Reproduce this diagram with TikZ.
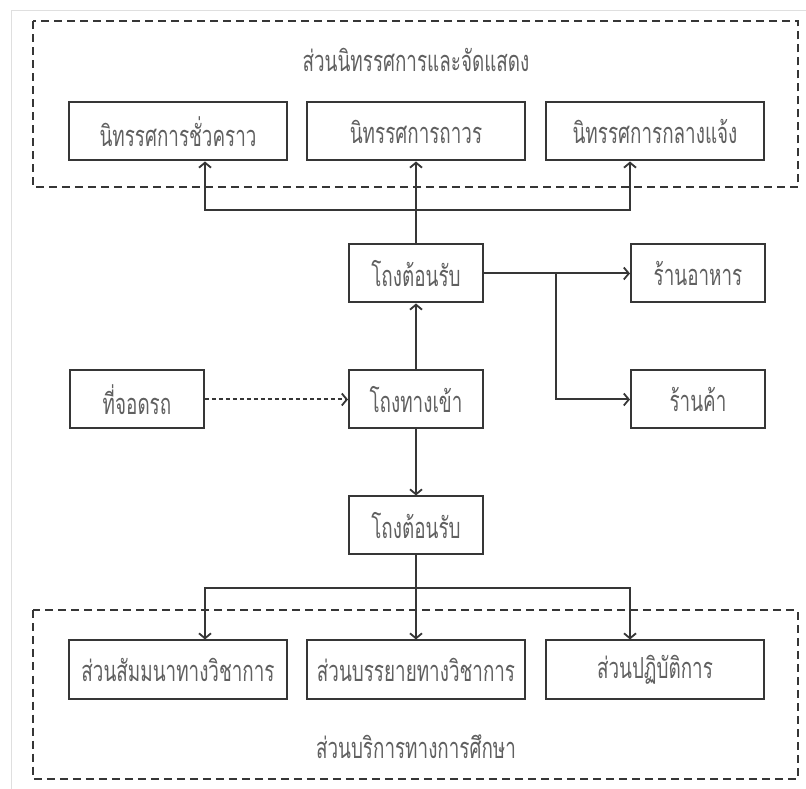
\documentclass[tikz,border=0pt]{standalone}
\usepackage{fontspec}
\newfontfamily\thaifont[Script=Thai,FakeStretch=0.65]{Loma}
\usetikzlibrary{positioning,arrows.meta}
\tikzset{>={Straight Barb[length=5pt,width=12pt,line width=1.8pt]}}
\definecolor{ink}{HTML}{363636}
\definecolor{txt}{HTML}{606060}
\tikzset{
  room/.style={draw=ink,line width=2pt,text=txt,minimum height=58pt,inner sep=0pt,font=\thaifont\fontsize{29}{31}\selectfont},
  wide/.style={room,minimum width=218pt},
  small/.style={room,minimum width=134pt},
  link/.style={draw=ink,line width=2pt},
  zone/.style={draw=ink,line width=2pt,dash pattern=on 8pt off 5pt},
  ttl/.style={text=txt,font=\thaifont\fontsize{29}{31}\selectfont}
}

\begin{document}
\begin{tikzpicture}
		\useasboundingbox (-416pt,399.5pt) rectangle (390pt,-389.5pt);
		\draw[gray!25,line width=1pt] (-404pt,-389.5pt) -- (-404pt,388.5pt) -- (390pt,388.5pt);

		\node(ent)[small]                        {โถงทางเข้า};
		\node(recA)[small,above=66pt of ent]     {โถงต้อนรับ};
		\node(recB)[small,below=66pt of ent]     {โถงต้อนรับ};
		\node(park)[small,left=143pt of ent]     {ที่จอดรถ};
		\node(shop)[small,right=146pt of ent]    {ร้านค้า};
		\node(food)[small,above=66pt of shop]    {ร้านอาหาร};

		\node(ex2)[wide,above=82pt of recA]      {นิทรรศการถาวร};
		\node(ex1)[wide,left=18pt of ex2]        {นิทรรศการชั่วคราว};
		\node(ex3)[wide,right=19pt of ex2]       {นิทรรศการกลางแจ้ง};

		\node(sc2)[wide,below=84pt of recB]      {ส่วนบรรยายทางวิชาการ};
		\node(sc1)[wide,left=18pt of sc2]        {ส่วนสัมมนาทางวิชาการ};
		\node(sc3)[wide,right=19pt of sc2]       {ส่วนปฏิบัติการ};

		% dashed zones with their titles
		\draw[zone] ([shift={(-35pt,80pt)}]ex1.north west) rectangle ([shift={(33pt,-26pt)}]ex3.south east);
		\node(ttlA)[ttl] at ([yshift=42pt]ex2.north) {ส่วนนิทรรศการและจัดแสดง};
		\draw[zone] ([shift={(-35pt,29pt)}]sc1.north west) rectangle ([shift={(33pt,-79pt)}]sc3.south east);
		\node(ttlB)[ttl] at ([yshift=-47pt]sc2.south) {ส่วนบริการทางการศึกษา};

		\coordinate(hubT) at ([yshift=33pt]recA.north);
		\coordinate(hubB) at ([yshift=-33pt]recB.south);
		\coordinate(brR)  at ([xshift=72pt]recA.east);

		\draw[link,->](ent) -- (recA);
		\draw[link,->](ent) -- (recB);
		\draw[link,dash pattern=on 4pt off 3pt,->](park) -- (ent);
		\draw[link,->](recA) -- (food);
		\draw[link,->](brR) |- (shop);

		\draw[link,->](recA) -- (ex2);
		\draw[link,<->](ex1.south -| park.east) |- (hubT) -| (ex3.south -| food.west);
		\draw[link,->](recB) -- (sc2);
		\draw[link,<->](sc1.north -| park.east) |- (hubB) -| (sc3.north -| food.west);
	\end{tikzpicture}
\end{document}
